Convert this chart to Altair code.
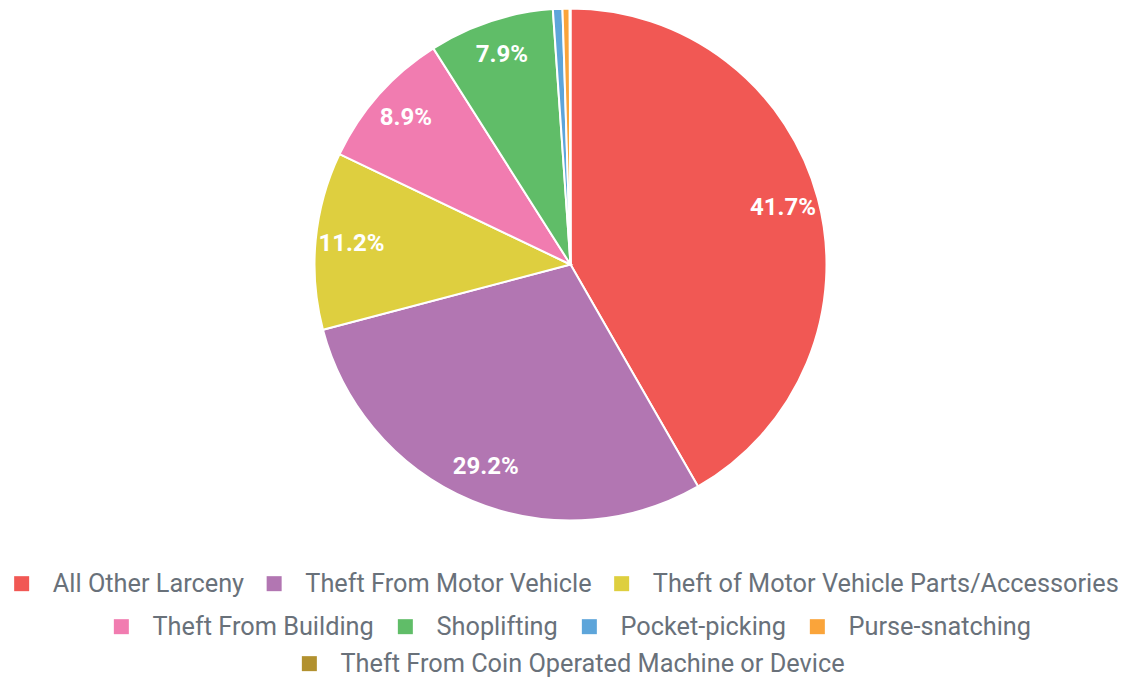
import altair as alt
import pandas as pd

categories = [
    "All Other Larceny",
    "Theft From Motor Vehicle",
    "Theft of Motor Vehicle Parts/Accessories",
    "Theft From Building",
    "Shoplifting",
    "Pocket-picking",
    "Purse-snatching",
    "Theft From Coin Operated Machine or Device",
]
values = [41.7, 29.2, 11.2, 8.9, 7.9, 0.6, 0.45, 0.05]
colors = ["#F15854", "#B276B2", "#DECF3F", "#F17CB0", "#60BD68", "#5DA5DA", "#FAA43A", "#B2912F"]
legend_rows = [1, 1, 1, 2, 2, 2, 2, 3]

df = pd.DataFrame({
    "category": categories,
    "value": values,
    "idx": list(range(len(categories))),
    "row": legend_rows,
})

base = alt.Chart(df)

cx, cy = 562.5, 256.5

pie = base.mark_arc(outerRadius=256, stroke="white", strokeWidth=2).encode(
    theta=alt.Theta("value:Q", stack=True),
    color=alt.Color("category:N", scale=alt.Scale(domain=categories, range=colors), legend=None),
    order=alt.Order("idx:Q"),
    x=alt.value(cx),
    y=alt.value(cy),
)

labels = base.transform_calculate(
    label="datum.value >= 1 ? format(datum.value, '.1f') + '%' : ''"
).mark_text(
    radius=220, color="white", font="Roboto", fontSize=24, fontWeight="bold",
    align="center", baseline="middle"
).encode(
    theta=alt.Theta("value:Q", stack=True),
    order=alt.Order("idx:Q"),
    text="label:N",
    x=alt.value(cx),
    y=alt.value(cy),
)

# legendX, legendY, columnPadding per legend row
legend_pos = {1: (1, 563, 16.5), 2: (100.7, 606, 18), 3: (288.7, 643, 18)}

layers = [pie, labels]
for r in [1, 2, 3]:
    cats = [c for c, rr in zip(categories, legend_rows) if rr == r]
    cols = [col for col, rr in zip(colors, legend_rows) if rr == r]
    lx, ly, cp = legend_pos[r]
    leg = base.transform_filter("datum.value < 0").mark_square(filled=True, opacity=1).encode(
        color=alt.Color(
            "category:N",
            scale=alt.Scale(domain=cats, range=cols),
            legend=alt.Legend(
                orient="none", legendX=lx, legendY=ly, direction="horizontal",
                columns=len(cats), title=None, symbolType="square", symbolSize=225,
                symbolStrokeWidth=0, symbolOpacity=1, labelFont="Roboto", labelFontSize=25.3,
                labelColor="#69717a", labelOffset=18.5, columnPadding=cp, labelLimit=0,
            ),
        )
    )
    layers.append(leg)

chart = alt.layer(*layers).resolve_scale(color="independent").properties(
    width=1115, height=670, padding=0, autosize=alt.AutoSizeParams(type="none")
).configure_view(stroke=None)

chart.save("out.html", embed_options={"renderer": "svg", "actions": False})
